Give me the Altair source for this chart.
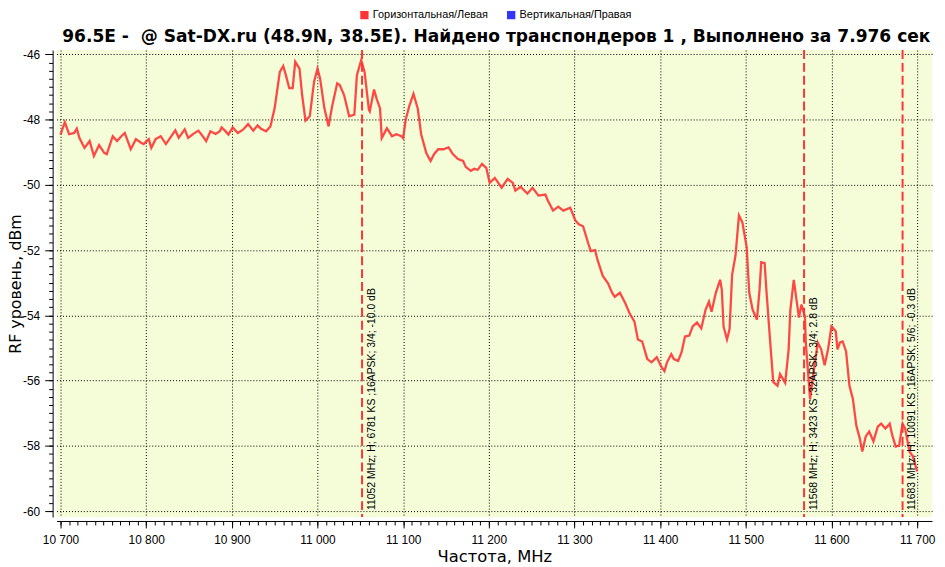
import altair as alt
import pandas as pd

# ---- data ----
freq_mhz = [10700, 10705, 10710, 10716, 10719, 10722, 10728, 10734, 10739, 10745, 10751, 10754,
            10761, 10766, 10771, 10775, 10782, 10788, 10794, 10797, 10803, 10806, 10811, 10817,
            10823, 10828, 10834, 10838, 10845, 10849, 10855, 10861, 10866, 10870, 10875, 10881,
            10886, 10888, 10892, 10896, 10901, 10907, 10913, 10919, 10925, 10930, 10934, 10940,
            10945, 10950, 10956, 10960, 10963, 10967, 10971, 10974, 10979, 10982, 10986, 10991,
            10996, 11000, 11003, 11008, 11013, 11017, 11023, 11026, 11031, 11037, 11043, 11046,
            11051, 11055, 11060, 11061, 11066, 11069, 11073, 11075, 11081, 11087, 11092, 11098,
            11100, 11103, 11107, 11112, 11117, 11121, 11127, 11132, 11136, 11141, 11147, 11153,
            11158, 11164, 11170, 11173, 11179, 11183, 11187, 11192, 11197, 11201, 11207, 11215,
            11222, 11228, 11231, 11237, 11245, 11251, 11258, 11266, 11269, 11275, 11281, 11287,
            11295, 11301, 11305, 11310, 11316, 11319, 11324, 11327, 11333, 11339, 11344, 11347,
            11353, 11359, 11364, 11370, 11374, 11379, 11385, 11390, 11396, 11401, 11405, 11408,
            11413, 11416, 11421, 11425, 11429, 11434, 11438, 11443, 11448, 11453, 11457, 11460,
            11465, 11470, 11472, 11474, 11478, 11481, 11484, 11488, 11492, 11496, 11501, 11504,
            11508, 11513, 11516, 11518, 11522, 11524, 11528, 11532, 11537, 11540, 11546, 11550,
            11552, 11556, 11562, 11565, 11569, 11570, 11575, 11578, 11584, 11588, 11592, 11596,
            11600, 11605, 11607, 11610, 11613, 11617, 11621, 11625, 11629, 11633, 11636, 11640,
            11644, 11649, 11654, 11658, 11663, 11668, 11671, 11675, 11679, 11683, 11686, 11691,
            11695, 11700]
level_dbm = [-48.46, -48.08, -48.45, -48.41, -48.28, -48.56, -48.87, -48.66, -49.12, -48.78, -49.02, -49.06,
             -48.51, -48.66, -48.51, -48.41, -48.91, -48.60, -48.71, -48.75, -48.60, -48.87, -48.60, -48.51,
             -48.75, -48.56, -48.33, -48.56, -48.30, -48.56, -48.44, -48.34, -48.51, -48.66, -48.36, -48.44,
             -48.36, -48.24, -48.34, -48.46, -48.24, -48.41, -48.31, -48.14, -48.34, -48.18, -48.28, -48.36,
             -48.21, -47.65, -46.54, -46.36, -46.63, -47.04, -47.04, -46.23, -46.44, -47.24, -48.03, -47.90,
             -46.84, -46.44, -46.74, -47.65, -48.21, -47.60, -46.89, -46.94, -47.25, -47.90, -47.85, -46.64,
             -46.18, -46.55, -47.70, -47.75, -47.08, -47.36, -47.66, -48.57, -48.27, -48.51, -48.45, -48.51,
             -48.57, -48.00, -47.60, -47.21, -47.66, -48.45, -49.03, -49.27, -49.06, -48.91, -48.91, -48.85,
             -49.06, -49.21, -49.27, -49.45, -49.57, -49.51, -49.54, -49.36, -49.48, -49.94, -49.79, -50.09,
             -49.82, -49.94, -50.18, -50.06, -50.27, -50.09, -50.33, -50.30, -50.49, -50.79, -50.67, -50.79,
             -50.70, -51.09, -51.21, -51.27, -51.79, -52.03, -52.00, -52.31, -52.79, -53.01, -53.31, -53.43,
             -53.31, -53.61, -53.92, -54.19, -54.74, -54.80, -55.34, -55.44, -55.28, -55.56, -55.71, -55.44,
             -55.19, -55.34, -55.40, -55.13, -54.65, -54.62, -54.34, -54.22, -54.40, -53.83, -53.58, -53.89,
             -53.31, -52.91, -53.22, -54.34, -54.74, -54.43, -52.76, -52.16, -50.94, -51.15, -51.91, -53.31,
             -53.83, -54.13, -53.22, -52.37, -52.40, -53.22, -54.65, -56.04, -56.16, -55.80, -56.07, -55.04,
             -53.83, -52.91, -54.07, -53.67, -54.04, -54.83, -56.56, -55.95, -54.83, -55.04, -55.53, -55.04,
             -54.34, -54.49, -55.04, -54.83, -54.80, -55.10, -56.16, -56.56, -57.38, -57.77, -58.17, -57.71,
             -57.56, -57.86, -57.41, -57.32, -57.47, -57.32, -57.68, -58.02, -57.99, -57.32, -57.47, -58.17,
             -58.32, -58.78]

series_names = ["Горизонтальная/Левая", "Вертикальная/Правая"]
series_colors = ["#FF3434", "#3434FF"]

tp_freq = [11052, 11568, 11683]
tp_label = ["11052 MHz; H; 6781 KS ;16APSK; 3/4; -10.0 dB",
            "11568 MHz; H; 3423 KS ;32APSK; 3/4; 2.8 dB",
            "11683 MHz; H; 10091 KS ;16APSK; 5/6; -0.3 dB"]

x_major = list(range(10700, 11701, 100))
x_minor = list(range(10700, 11701, 10))
y_major = list(range(-60, -45, 2))
y_minor = [-60 + 0.25 * i for i in range(57)]

title_text = "96.5E -\u00a0 @ Sat-DX.ru (48.9N, 38.5E). Найдено транспондеров 1 , Выполнено за 7.976 сек"

# ---- tables ----
spec_df = pd.DataFrame({"freq": freq_mhz, "dbm": level_dbm})
tp_df = pd.DataFrame({"freq": tp_freq, "label": tp_label})
legend_df = pd.DataFrame({"pol": series_names})
title_df = pd.DataFrame({"t": [title_text]})

W, H = 883, 471
FONT = "Liberation Sans"
TFONT = "DejaVu Sans"
xscale = alt.Scale(domain=[10695.4, 11717.4], nice=False, zero=False)
yscale = alt.Scale(domain=[-60.18, -45.87], nice=False, zero=False)

x_axis = alt.Axis(values=x_major, title="Частота, MHz", grid=True, gridColor="black",
                  gridDash=[1, 2], gridOpacity=1, gridWidth=1,
                  labelExpr="replace(format(datum.value, ','), ',', ' ')",
                  labelFont=FONT, labelFontSize=12, labelColor="black", labelPadding=7,
                  tickSize=7, tickColor="black", domainColor="black", offset=4,
                  titleFont=TFONT, titleFontSize=16.5, titleFontWeight="normal",
                  titleColor="black", titlePadding=3, labelFlush=False, orient="bottom")
y_axis = alt.Axis(values=y_major, title="RF уровень, dBm", grid=True, gridColor="black",
                  gridDash=[1, 2], gridOpacity=1, gridWidth=1,
                  labelExpr="'' + datum.value",
                  labelFont=FONT, labelFontSize=12, labelColor="black", labelPadding=5,
                  tickSize=8, tickColor="black", domainColor="black", offset=4,
                  titleFont=TFONT, titleFontSize=16, titleFontWeight="normal",
                  titleColor="black", titlePadding=-1, orient="left")

line = alt.Chart(spec_df).mark_line(strokeWidth=2.3, opacity=0.9, color=series_colors[0]).encode(
    x=alt.X("freq:Q", scale=xscale, axis=x_axis),
    y=alt.Y("dbm:Q", scale=yscale, axis=y_axis),
)

legend_layer = alt.Chart(legend_df).mark_square(filled=True, opacity=0, size=1).encode(
    x=alt.value(0), y=alt.value(0),
    color=alt.Color("pol:N",
                    scale=alt.Scale(domain=series_names, range=series_colors),
                    legend=alt.Legend(title=None, orient="none", legendX=305, legendY=-41,
                                      direction="horizontal", symbolType="square",
                                      symbolSize=70, symbolStrokeWidth=0, symbolOpacity=1,
                                      labelFont=FONT, labelFontSize=11, labelColor="black",
                                      columnPadding=17, labelOffset=3)),
)

minor = alt.Chart(spec_df).mark_point(opacity=0).encode(
    x=alt.X("freq:Q", scale=xscale,
            axis=alt.Axis(values=x_minor, labels=False, title=None, grid=False, domain=False,
                          tickSize=4, tickColor="black", offset=4, orient="bottom")),
    y=alt.Y("dbm:Q", scale=yscale,
            axis=alt.Axis(values=y_minor, labels=False, title=None, grid=False, domain=False,
                          tickSize=4, tickColor="black", offset=4, orient="left")),
)

rules = alt.Chart(tp_df).mark_rule(color="#FF3434", strokeWidth=2, strokeDash=[9, 4]).encode(
    x=alt.X("freq:Q", scale=xscale, axis=None),
)

labels = alt.Chart(tp_df).mark_text(angle=270, align="left", baseline="middle", dy=10,
                                    font=FONT, fontSize=10.5, color="black").encode(
    x=alt.X("freq:Q", scale=xscale, axis=None),
    y=alt.value(H - 7),
    text="label:N",
)

title_mark = alt.Chart(title_df).mark_text(font=TFONT, fontSize=17.2, fontWeight="bold",
                                           color="black", align="center",
                                           baseline="alphabetic").encode(
    x=alt.value(W / 2 + 2), y=alt.value(-8), text="t:N",
)

chart = alt.layer(line, minor, rules, labels, legend_layer, title_mark).resolve_axis(
    x="independent", y="independent").properties(
    width=W, height=H,
    autosize=alt.AutoSizeParams(type="none"),
    padding={"left": 49, "top": 40, "right": 5, "bottom": 48},
    background="white",
).configure_view(fill="#F4FCD8", stroke=None).configure_axis(domainWidth=1)

chart.save("out.html", embed_options={"renderer": "svg", "actions": False})
